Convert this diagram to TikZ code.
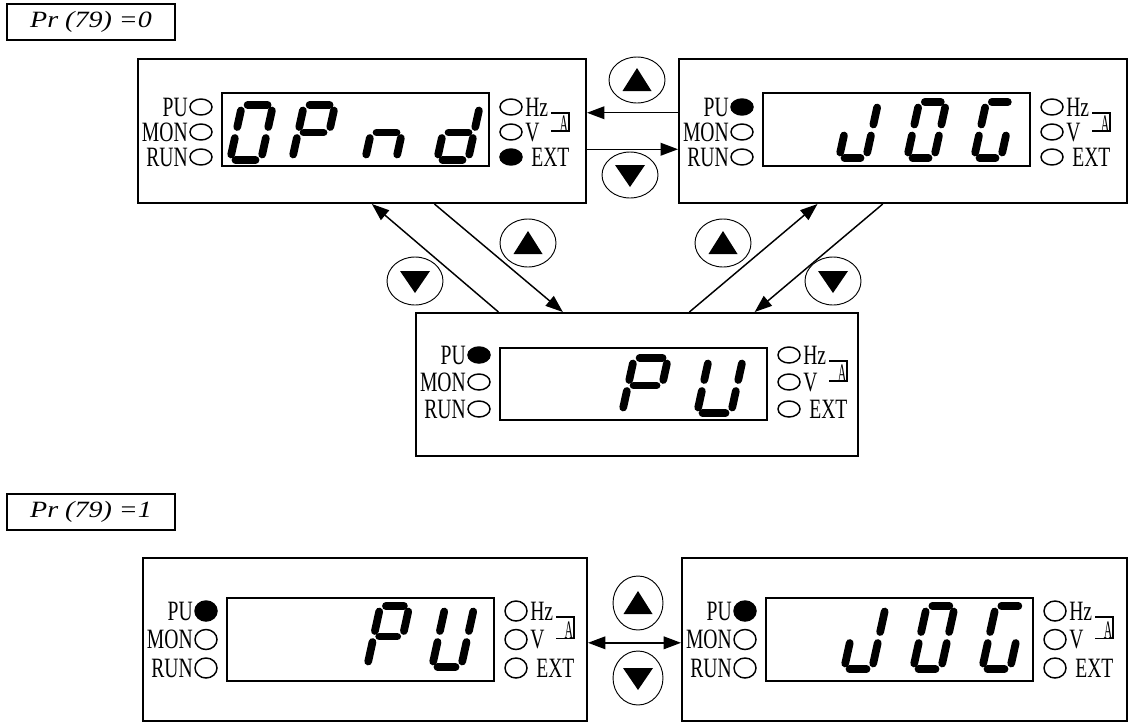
\documentclass[tikz,border=0pt]{standalone}
\usepackage{fontspec}
\setmainfont{Liberation Serif}
\newfontfamily\panelfont[FakeStretch=0.7]{Liberation Serif}
\newfontfamily\prfont[FakeStretch=1.2]{Liberation Serif}
\usetikzlibrary{arrows.meta,shapes.geometric,calc}

\tikzset{
 panelbox/.style={draw, line width=1.5pt, rectangle, inner sep=0pt, anchor=north west},
 lcd/.style={line width=1.4pt},
 led/.style={line width=1.1pt},
 lbl/.style={font=\panelfont\fontsize{21pt}{21pt}\selectfont, inner sep=0pt, text height=13.9pt, text depth=0pt},
 seg/.style={line width=5.8pt, line cap=round},
 btn/.style={draw, ellipse, line width=0.7pt, inner sep=0pt},
 arr/.style={line width=1.1pt, -{Triangle[length=13pt,width=9.5pt]}},
 dblarr/.style={line width=1.1pt, {Triangle[length=13pt,width=9.5pt]}-{Triangle[length=13pt,width=9.5pt]}},
 prbox/.style={draw, line width=1.1pt, minimum width=126pt, minimum height=27pt, inner sep=0pt,
   font=\prfont\itshape\fontsize{17.5pt}{17.5pt}\selectfont},
}

% seven-segment pieces (local: u right, -v up)
\newcommand{\sgdrawa}{\draw[seg] (5.5,-\sgH) -- (\sgWg,-\sgH);}
\newcommand{\sgdrawb}{\draw[seg] (\sgW,-\sgHa) -- (\sgW,-\sgMb);}
\newcommand{\sgdrawc}{\draw[seg] (\sgW,-\sgMc) -- (\sgW,-5.5);}
\newcommand{\sgdrawd}{\draw[seg] (5.5,0) -- (\sgWg,0);}
\newcommand{\sgdrawe}{\draw[seg] (0,-\sgMc) -- (0,-5.5);}
\newcommand{\sgdrawf}{\draw[seg] (0,-\sgHa) -- (0,-\sgMb);}
\newcommand{\sgdrawm}{\draw[seg] (5.5,-\sgM) -- (\sgWg,-\sgM);}
\newcommand{\sevseg}[5]{%
 \begin{scope}[shift={(#1,#2)}, xslant=0.22]
  \pgfmathsetmacro\sgH{#3}
  \pgfmathsetmacro\sgM{#3/2}
  \pgfmathsetmacro\sgHa{#3-5.5}
  \pgfmathsetmacro\sgMb{#3/2+5.5}
  \pgfmathsetmacro\sgMc{#3/2-5.5}
  \pgfmathsetmacro\sgW{#4}
  \pgfmathsetmacro\sgWg{#4-5.5}
  \foreach \s in {#5} {\csname sgdraw\s\endcsname}
 \end{scope}}

% panel interior: x, y, row1, rowstep, lcdtop, lcdbot, PU fill, EXT fill, led y radius
\newcommand{\panelin}[9]{%
 \begin{scope}[shift={(#1,#2)}]
  \pgfmathsetmacro\rA{#3}
  \pgfmathsetmacro\rB{#3+#4}
  \pgfmathsetmacro\rC{#3+2*#4}
  \pgfmathsetmacro\rTop{#3+6}
  \pgfmathsetmacro\rBot{#3+#4-1}
  \pgfmathsetmacro\rMid{#3+#4/2+5}
  \draw[lcd] (85,#5) rectangle (352,#6);
  \draw[led, fill=#7] (64,\rA) ellipse [x radius=11, y radius=#9];
  \draw[led, fill=white] (64,\rB) ellipse [x radius=11, y radius=#9];
  \draw[led, fill=white] (64,\rC) ellipse [x radius=11, y radius=#9];
  \node[lbl, anchor=east] at (51,\rA) {PU};
  \node[lbl, anchor=east] at (51,\rB) {MON};
  \node[lbl, anchor=east] at (51,\rC) {RUN};
  \draw[led, fill=white] (374,\rA) ellipse [x radius=11, y radius=#9];
  \draw[led, fill=white] (374,\rB) ellipse [x radius=11, y radius=#9];
  \draw[led, fill=#8] (374,\rC) ellipse [x radius=11, y radius=#9];
  \node[lbl, anchor=west] at (388,\rA) {Hz};
  \node[lbl, anchor=west] at (388,\rB) {V};
  \node[lbl, anchor=west] at (394,\rC) {EXT};
  \draw[line width=1.1pt] (414,\rTop) -- (432,\rTop) -- (432,\rBot) -- (414,\rBot);
  \node[lbl, anchor=east, text height=12.4pt] at (431.5,\rMid) {\scalebox{0.6}[0.9]{A}};
 \end{scope}}

\newcommand{\upbtn}[5]{%
 \node[btn, minimum width=#4, minimum height=#5] (#1) at (#2,#3) {};
 \fill ($(#1)+(-14.5,11)$) -- ($(#1)+(14.5,11)$) -- ($(#1)+(0,-12)$) -- cycle;}
\newcommand{\dnbtn}[5]{%
 \node[btn, minimum width=#4, minimum height=#5] (#1) at (#2,#3) {};
 \fill ($(#1)+(-15,-10)$) -- ($(#1)+(15,-10)$) -- ($(#1)+(0,12)$) -- cycle;}

\begin{document}
\begin{tikzpicture}[x=0.75pt,y=-0.75pt]
\useasboundingbox (0,0) rectangle (1130,722);

% mode labels
\node[prbox] (pr0) at (91,22) {Pr (79) =0};
\node[prbox] (pr1) at (91,512) {Pr (79) =1};

% panels
\node[panelbox, minimum width=336pt, minimum height=108pt] (tl) at (137,58) {};
\node[panelbox, minimum width=336pt, minimum height=108pt] (tr) at (678,58) {};
\node[panelbox, minimum width=331.5pt, minimum height=107.25pt] (mid) at (415,312) {};
\node[panelbox, minimum width=333pt, minimum height=122.25pt] (bl) at (142,557) {};
\node[panelbox, minimum width=333.75pt, minimum height=122.25pt] (br) at (681,557) {};

\panelin{137}{58}{49}{25}{35}{108}{white}{black}{8}
\panelin{678}{58}{49}{25}{35}{108}{black}{white}{8}
\panelin{415}{312}{43}{27}{36}{108}{black}{white}{8}
\panelin{142}{557}{54}{28.5}{41}{124}{black}{white}{10}
\panelin{681}{557}{54}{28.5}{41}{124}{black}{white}{10}

% displays
\sevseg{230}{160}{55}{31}{a,b,c,d,e,f}
\sevseg{292}{160}{55}{31}{a,b,e,f,m}
\sevseg{365}{160}{55}{31}{c,e,m}
\sevseg{437}{160}{55}{31}{b,c,d,e,m}

\sevseg{839}{158}{56}{27}{b,c,d,e}
\sevseg{907}{158}{56}{27}{a,b,c,d,e,f}
\sevseg{974}{158}{56}{27}{a,c,d,e,f}

\sevseg{622}{413}{55}{34}{a,b,e,f,m}
\sevseg{697}{413}{55}{34}{b,c,d,e,f}

\sevseg{367}{667}{61}{29}{a,b,e,f,m}
\sevseg{432}{667}{61}{29}{b,c,d,e,f}

\sevseg{844}{669}{63}{28}{b,c,d,e}
\sevseg{913}{669}{63}{28}{a,b,c,d,e,f}
\sevseg{982}{669}{63}{28}{a,c,d,e,f}

% buttons
\upbtn{bu1}{637}{80}{42pt}{34.5pt}
\dnbtn{bd1}{630}{175}{42pt}{34.5pt}
\upbtn{bu2}{528}{243}{42pt}{36pt}
\dnbtn{bd2}{415}{281}{42pt}{36pt}
\upbtn{bu3}{723}{243}{42pt}{36pt}
\dnbtn{bd3}{833}{281}{42pt}{36pt}
\upbtn{bu4}{638}{603}{37.5pt}{40.5pt}
\dnbtn{bd4}{638}{678}{37.5pt}{40.5pt}

% connectors
\draw[arr] ($(tr.north west)!0.375!(tr.south west)$) -- ($(tl.north east)!0.375!(tl.south east)$);
\draw[arr] ($(tl.north east)!0.625!(tl.south east)$) -- ($(tr.north west)!0.625!(tr.south west)$);
\draw[arr] ($(mid.north west)!0.188!(mid.north east)$) -- ($(tl.south west)!0.522!(tl.south east)$);
\draw[arr] ($(tl.south west)!0.661!(tl.south east)$) -- ($(mid.north west)!0.333!(mid.north east)$);
\draw[arr] ($(mid.north west)!0.618!(mid.north east)$) -- ($(tr.south west)!0.31!(tr.south east)$);
\draw[arr] ($(tr.south west)!0.455!(tr.south east)$) -- ($(mid.north west)!0.765!(mid.north east)$);
\draw[dblarr] ($(bl.north east)!0.52!(bl.south east)$) -- ($(br.north west)!0.52!(br.south west)$);
\end{tikzpicture}
\end{document}
